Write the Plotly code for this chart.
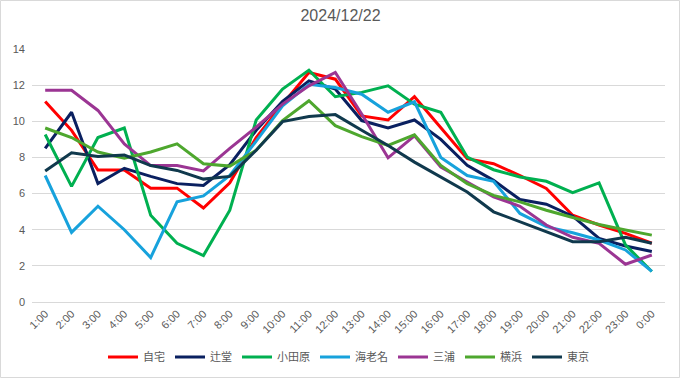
import plotly.graph_objects as go

hours = ["1:00","2:00","3:00","4:00","5:00","6:00","7:00","8:00","9:00","10:00","11:00","12:00",
         "13:00","14:00","15:00","16:00","17:00","18:00","19:00","20:00","21:00","22:00","23:00","0:00"]

jitaku   = [11.1, 9.5, 7.3, 7.3, 6.3, 6.3, 5.2, 6.6, 9.1, 10.95, 12.7, 12.33, 10.3, 10.07, 11.36, 9.67, 7.93, 7.65, 7.0, 6.28, 4.8, 4.26, 3.8, 3.25]
tsujido  = [8.5, 10.5, 6.55, 7.4, 6.95, 6.55, 6.45, 7.6, 9.5, 11.1, 12.24, 11.78, 10.04, 9.63, 10.07, 9.0, 7.56, 6.73, 5.67, 5.41, 4.75, 3.52, 3.1, 2.79]
odawara  = [9.27, 6.4, 9.1, 9.63, 4.8, 3.25, 2.57, 5.08, 10.07, 11.78, 12.83, 11.36, 11.6, 11.96, 10.95, 10.5, 8.02, 7.32, 6.92, 6.68, 6.05, 6.59, 3.16, 1.69]
ebina    = [7.0, 3.85, 5.3, 4.0, 2.46, 5.54, 5.87, 7.0, 8.9, 10.86, 12.05, 11.87, 11.5, 10.5, 11.08, 8.0, 7.0, 6.68, 4.9, 4.17, 3.83, 3.43, 2.88, 1.69]
miura    = [11.72, 11.72, 10.6, 8.75, 7.55, 7.55, 7.25, 8.5, 9.67, 10.95, 11.96, 12.7, 10.4, 7.98, 9.2, 7.47, 6.64, 5.82, 5.3, 4.26, 3.58, 3.25, 2.09, 2.6]
yokohama = [9.63, 9.1, 8.3, 7.96, 8.3, 8.75, 7.65, 7.52, 8.4, 10.04, 11.14, 9.76, 9.15, 8.66, 9.25, 7.56, 6.55, 5.9, 5.54, 5.08, 4.68, 4.29, 3.98, 3.7]
tokyo    = [7.25, 8.26, 8.05, 8.13, 7.55, 7.28, 6.8, 6.95, 8.4, 9.98, 10.26, 10.37, 9.5, 8.66, 7.74, 6.92, 6.09, 4.99, 4.44, 3.89, 3.34, 3.34, 3.58, 3.25]

names = ["自宅", "辻堂", "小田原", "海老名", "三浦", "横浜", "東京"]
series = [jitaku, tsujido, odawara, ebina, miura, yokohama, tokyo]
colors = ["#FF0000", "#0A2060", "#00B050", "#17A2DC", "#9B3593", "#4EA72E", "#10394D"]

y_ticks = [0, 2, 4, 6, 8, 10, 12, 14]

fig = go.Figure()
for n, s, c in zip(names, series, colors):
    fig.add_trace(go.Scatter(x=hours, y=s, name=n, mode="lines",
                             line=dict(color=c, width=3)))

W, H = 681, 379
ml, mr, mt, mb = 32, 16, 49, 77
pw, ph = W - ml - mr, H - mt - mb

fig.update_layout(
    width=W, height=H,
    margin=dict(l=ml, r=mr, t=mt, b=mb, autoexpand=False),
    paper_bgcolor="white", plot_bgcolor="white",
    font=dict(family="Liberation Sans, Noto Sans CJK JP, sans-serif", color="#595959", size=11),
    title=dict(text="2024/12/22", x=0.5, xanchor="center", y=0.975, yanchor="top",
               font=dict(size=16, color="#595959")),
    showlegend=True,
    legend=dict(orientation="h", x=0.5, xanchor="center", y=-55 / ph, yanchor="middle",
                font=dict(family="Noto Sans CJK JP, sans-serif", size=11, color="#595959"),
                itemwidth=30, tracegroupgap=0),
    xaxis=dict(type="category", range=[-0.5, 23.5], tickangle=-45, showgrid=False,
               showline=True, linecolor="#D9D9D9", ticks="", tickfont=dict(size=11),
               automargin=False),
    yaxis=dict(range=[0, 14], tickvals=y_ticks, showgrid=True, gridcolor="#D9D9D9",
               zeroline=False, ticks="", tickfont=dict(size=11), ticklabelstandoff=6,
               automargin=False),
    shapes=[dict(type="rect", xref="paper", yref="paper",
                 x0=(-ml + 0.5) / pw, x1=1 + (mr - 1.5) / pw,
                 y0=(-mb + 1.5) / ph, y1=1 + (mt - 0.5) / ph,
                 line=dict(color="#D9D9D9", width=1), layer="below")],
)

fig.write_html("out.html", config={"displayModeBar": False},
               post_script="document.body.style.margin='0';document.body.style.padding='0';")
